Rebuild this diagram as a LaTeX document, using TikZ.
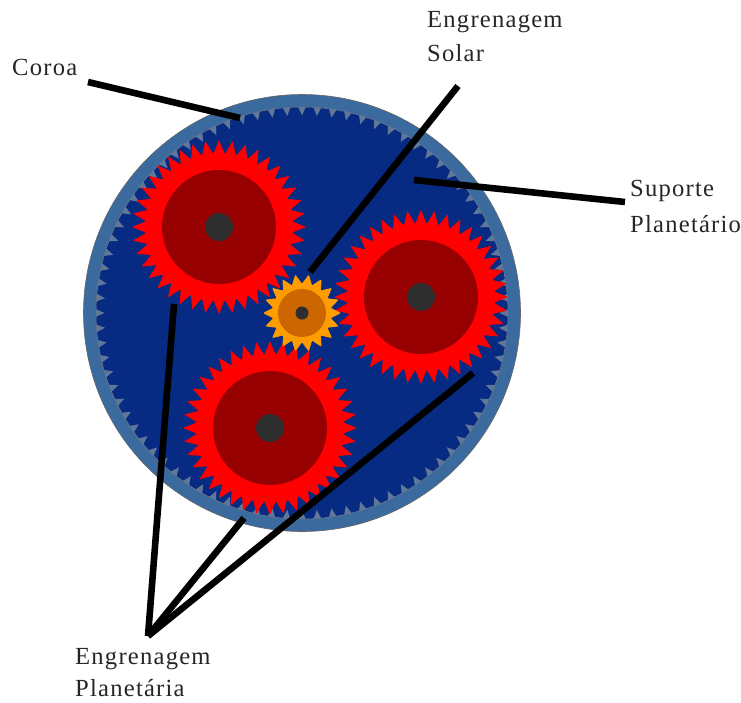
\documentclass[tikz,border=0pt]{standalone}
\usepackage{fontspec}
\setmainfont[LetterSpace=5]{Liberation Serif}
\definecolor{ringblue}{HTML}{3A6A9E}
\definecolor{innerblue}{HTML}{072A82}
\definecolor{ringtooth}{HTML}{5F7799}
\definecolor{planetred}{HTML}{FF0000}
\definecolor{planetdark}{HTML}{960000}
\definecolor{hubgrey}{HTML}{2E2E2E}
\definecolor{sunorange}{HTML}{FF9C00}
\definecolor{sundark}{HTML}{CC6600}
\newcommand{\gearshape}[8]{% cx cy root height teeth fill dark-radius dark-color
  \fill[#6,line join=round,draw=#6,line width=0.8pt] plot[domain=0:360,samples=\number\numexpr #5*12+1\relax]
    ({#1+(#3+#4*pow(abs(mod(#5*\x,360)-180)/180,1.3))*cos(\x)},
     {#2+(#3+#4*pow(abs(mod(#5*\x,360)-180)/180,1.3))*sin(\x)}) -- cycle;
  \fill[#8] (#1,#2) circle[radius=#7];
}
\tikzset{
  label text/.style={font=\fontsize{24.6}{25}\selectfont,anchor=west,inner sep=0pt,text=black!85},
  leader/.style={draw=black,line width=6.6pt},
}
\begin{document}
\begin{tikzpicture}[x=1pt,y=-1pt]
\useasboundingbox (0,0) rectangle (741,702);
% carrier and ring
\fill[ringblue,draw=black!60,line width=0.6pt] (302,313) circle[radius=218.5];
\fill[innerblue,draw=black!50,line width=0.5pt] (302,313) circle[radius=206];
\foreach \a in {0,4.2857,...,356}{
  \fill[ringtooth] ({302+206*cos(\a-1.05)},{313+206*sin(\a-1.05)}) -- ({302+197.5*cos(\a)},{313+197.5*sin(\a)}) -- ({302+206*cos(\a+1.05)},{313+206*sin(\a+1.05)}) -- cycle;
}
% planets
\gearshape{219}{227}{73}{13}{40}{planetred}{57}{planetdark}
\gearshape{421}{297}{73}{13}{40}{planetred}{57}{planetdark}
\gearshape{270}{428}{73}{13}{40}{planetred}{57}{planetdark}
\node[circle,fill=hubgrey,minimum size=28pt,inner sep=0pt] (hubA) at (219,227) {};
\node[circle,fill=hubgrey,minimum size=28pt,inner sep=0pt] (hubB) at (421,297) {};
\node[circle,fill=hubgrey,minimum size=28pt,inner sep=0pt] (hubC) at (270,428) {};
% sun
\gearshape{302}{313}{29}{9}{18}{sunorange}{24}{sundark}
\node[circle,fill=hubgrey,minimum size=13pt,inner sep=0pt] (hubS) at (302,313) {};
% labels
\node[label text] (coroa) at (12,67) {Coroa};
\node[label text] (solA) at (427,22) {Engrenagem};
\node[label text] (solB) at (427,53) {Solar};
\node[label text] (supA) at (630,191) {Suporte};
\node[label text] (supB) at (630,224) {Planetário};
\node[label text] (plaA) at (75,659) {Engrenagem};
\node[label text] (plaB) at (75,688) {Planetária};
% leader end points
\coordinate (c1) at (88,82);
\coordinate (c2) at (240,118);
\coordinate (s1) at (458,86);
\coordinate (s2) at (310,272);
\coordinate (p1) at (625,202);
\coordinate (p2) at (414,180);
\coordinate (apex) at (148,636);
\coordinate (g1) at (174,304);
\coordinate (g2) at (244,518);
\coordinate (g3) at (473,373);
\draw[leader] (c1) -- (c2);
\draw[leader] (s1) -- (s2);
\draw[leader] (p1) -- (p2);
\draw[leader] (apex) -- (g1);
\draw[leader] (apex) -- (g2);
\draw[leader] (apex) -- (g3);
\end{tikzpicture}
\end{document}
